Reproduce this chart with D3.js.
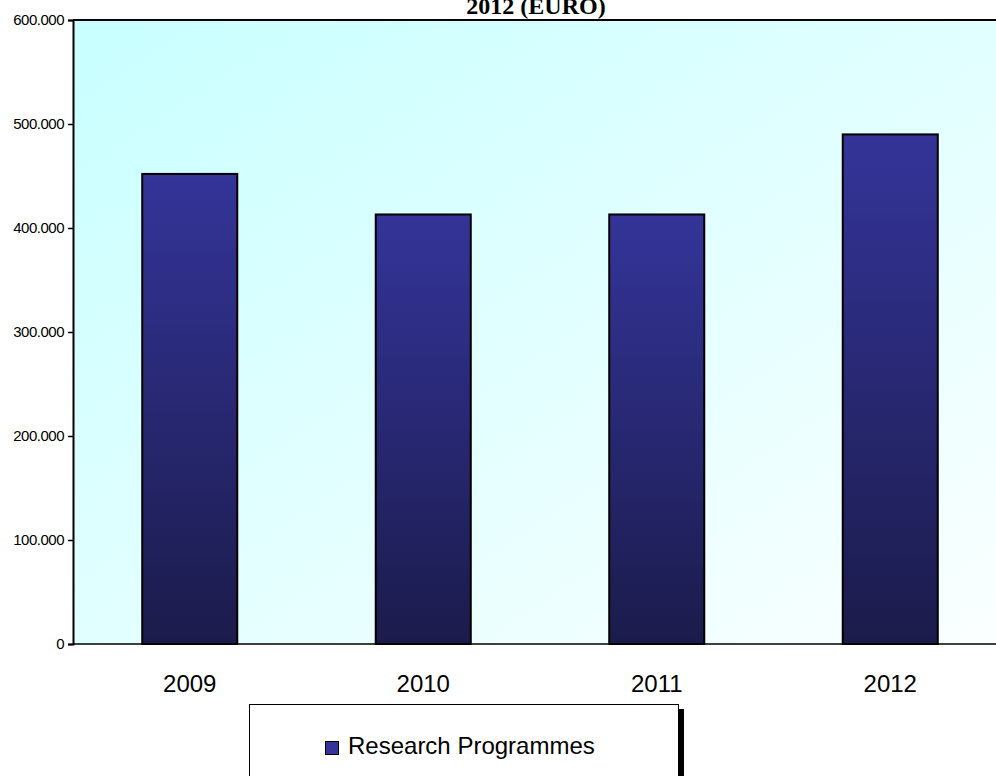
<!DOCTYPE html>
<html>
<head>
<meta charset="utf-8">
<script src="https://cdn.jsdelivr.net/npm/d3@7"></script>
<style>
html,body{margin:0;padding:0;background:#fff;overflow:hidden;}
svg{display:block;}
</style>
</head>
<body>
<svg id="chart" width="996" height="776"></svg>
<script>
const categories = ["2009", "2010", "2011", "2012"];
const values = [452000, 413000, 413000, 490000];
const yTicks = [0, 100000, 200000, 300000, 400000, 500000, 600000];
const seriesName = "Research Programmes";
const titleText = "2012 (EURO)";

const svg = d3.select("#chart");
const margin = {left: 73, top: 20, bottom: 644, right: 1007};

const defs = svg.append("defs");
const bg = defs.append("linearGradient").attr("id","bg")
  .attr("x1","0").attr("y1","0").attr("x2","1").attr("y2","1");
bg.append("stop").attr("offset","0").attr("stop-color","#c8ffff");
bg.append("stop").attr("offset","1").attr("stop-color","#fbffff");
const bar = defs.append("linearGradient").attr("id","bar")
  .attr("x1","0").attr("y1","0").attr("x2","0").attr("y2","1");
bar.append("stop").attr("offset","0").attr("stop-color","#343499");
bar.append("stop").attr("offset","1").attr("stop-color","#1b1b4b");

const x = d3.scaleBand().domain(categories).range([margin.left, margin.right]).paddingInner(0.593).paddingOuter(0.2965);
const y = d3.scaleLinear().domain([0, 600000]).range([margin.bottom, margin.top]);

svg.append("rect").attr("x", margin.left).attr("y", margin.top)
  .attr("width", margin.right - margin.left).attr("height", margin.bottom - margin.top)
  .attr("fill","url(#bg)");

svg.append("line").attr("x1", margin.left).attr("x2", margin.right)
  .attr("y1", margin.top).attr("y2", margin.top).attr("stroke","#000").attr("stroke-width",2);

svg.selectAll("rect.bar").data(categories).enter().append("rect").attr("class","bar")
  .attr("x", d => x(d)).attr("width", x.bandwidth())
  .attr("y", (d,i) => y(values[i])).attr("height", (d,i) => y(0) - y(values[i]))
  .attr("fill","url(#bar)").attr("stroke","#000").attr("stroke-width",2);

const fmt = v => v === 0 ? "0" : d3.format(",")(v).replace(/,/g, ".");
const yAxis = svg.append("g").attr("transform", `translate(${margin.left},0)`)
  .call(d3.axisLeft(y).tickValues(yTicks).tickSize(5).tickPadding(4).tickFormat(fmt));
yAxis.select(".domain").attr("stroke-width",2);
yAxis.selectAll(".tick line").attr("stroke-width",1.5);
yAxis.selectAll("text").attr("font-family","Arial, 'Liberation Sans', sans-serif").attr("font-size",15).attr("fill","#000").attr("letter-spacing","-0.5");

svg.append("line").attr("x1", margin.left).attr("x2", margin.right)
  .attr("y1", y(0)).attr("y2", y(0)).attr("stroke","#000").attr("stroke-width",1.5);

svg.selectAll("text.xl").data(categories).enter().append("text").attr("class","xl")
  .attr("x", d => x(d) + x.bandwidth()/2).attr("y", 692)
  .attr("text-anchor","middle").attr("font-family","Arial, 'Liberation Sans', sans-serif")
  .attr("font-size",24).text(d => d);

svg.append("text").attr("class","title")
  .attr("x", 536).attr("y", 14)
  .attr("text-anchor","middle").attr("font-family","'Liberation Serif', 'Times New Roman', serif")
  .attr("font-weight","bold").attr("font-size",24).text(titleText);

// legend
svg.append("rect").attr("x", 679).attr("y", 709).attr("width", 5).attr("height", 80).attr("fill","#000");
svg.append("rect").attr("x", 249.5).attr("y", 704.5).attr("width", 429).attr("height", 80)
  .attr("fill","#fff").attr("stroke","#000").attr("stroke-width",1);
svg.append("rect").attr("x", 325.5).attr("y", 741.5).attr("width", 13).attr("height", 13)
  .attr("fill","#343499").attr("stroke","#000").attr("stroke-width",1);
svg.append("text").attr("x", 348).attr("y", 754)
  .attr("font-family","Arial, 'Liberation Sans', sans-serif").attr("font-size",24).text(seriesName);
</script>
</body>
</html>
